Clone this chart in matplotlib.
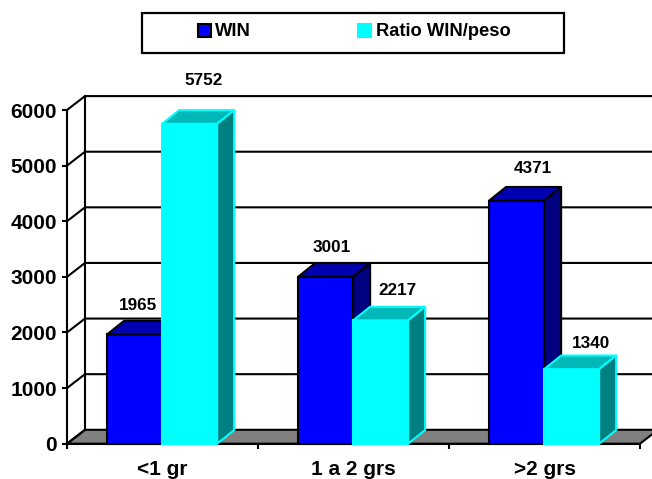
#!/usr/bin/env python3
"""Pseudo-3D clustered bars of WIN and WIN/weight ratio by weight class."""

import matplotlib
matplotlib.use('Agg')
import matplotlib.pyplot as plt
from matplotlib.patches import Polygon, Rectangle

plt.rcParams['font.family'] = ['Liberation Sans', 'DejaVu Sans']
plt.rcParams['font.weight'] = 'bold'

categories = ['<1 gr', '1 a 2 grs', '>2 grs']
win = [1965, 3001, 4371]
ratio = [5752, 2217, 1340]
y_ticks = [0, 1000, 2000, 3000, 4000, 5000, 6000]

W, H = 652, 479
LEFT, RIGHT, TOP, BOTTOM = 67, 640, 110, 443.7
LW = 1.5

# depth of the fake 3D box, in data units
DX = 18 / 191
DY = 250
BAR_DX = 17 / 191
BAR_DY = 245
BAR_W = 0.288


def draw_bar(ax, x0, value, face, top, side, edge):
    ax.bar(x0, value, BAR_W, align='edge', color=face, edgecolor=edge, linewidth=LW,
           clip_on=False, zorder=3)
    x1 = x0 + BAR_W
    ax.add_patch(Polygon([(x0, value), (x0 + BAR_DX, value + BAR_DY),
                          (x1 + BAR_DX, value + BAR_DY), (x1, value)],
                         facecolor=top, edgecolor=edge, linewidth=LW, clip_on=False, zorder=3,
                         joinstyle='round'))
    ax.add_patch(Polygon([(x1, 0), (x1 + BAR_DX, BAR_DY),
                          (x1 + BAR_DX, value + BAR_DY), (x1, value)],
                         facecolor=side, edgecolor=edge, linewidth=LW, clip_on=False, zorder=3,
                         joinstyle='round'))


def main():
    fig = plt.figure(figsize=(W / 100, H / 100), dpi=100)
    ax = fig.add_axes([LEFT / W, 1 - BOTTOM / H, (RIGHT - LEFT) / W, (BOTTOM - TOP) / H])
    ax.set_xlim(0, 3)
    ax.set_ylim(0, 6000)
    ax.patch.set_visible(False)
    for name in ['top', 'right']:
        ax.spines[name].set_visible(False)
    for name in ['left', 'bottom']:
        ax.spines[name].set_linewidth(LW)
        ax.spines[name].set_zorder(2)

    # floor
    ax.add_patch(Polygon([(0, 0), (DX, DY), (3 + DX, DY), (3, 0)], facecolor='#808080',
                         edgecolor='black', linewidth=LW, clip_on=False, zorder=1))

    # back and side walls
    ax.plot([DX, DX], [DY, 6000 + DY], color='black', lw=LW, clip_on=False, zorder=1)
    for tick in y_ticks[1:]:
        ax.plot([0, DX, 3 + DX], [tick, tick + DY, tick + DY], color='black', lw=LW,
                clip_on=False, zorder=1)
    ax.plot([0, DX], [0, DY], color='black', lw=LW, clip_on=False, zorder=1)

    # bars, left to right so the cyan one covers the blue side face
    for i in range(len(categories)):
        x0 = i + 0.21
        draw_bar(ax, x0, win[i], '#0000FF', '#0000B0', '#000080', 'black')
        draw_bar(ax, x0 + BAR_W, ratio[i], '#00FFFF', '#00B8B8', '#008080', '#00FFFF')

    # value labels sit at slightly different spots around each bar
    win_offsets = [(3, 29), (6, 29), (16, 32)]
    ratio_offsets = [(14, 43), (17, 30), (19, 26)]
    for i in range(len(categories)):
        ax.annotate(str(win[i]), (i + 0.21 + BAR_W / 2, win[i]), xytext=win_offsets[i],
                    textcoords='offset pixels', ha='center', va='center', fontsize=12.3, zorder=5)
        ax.annotate(str(ratio[i]), (i + 0.21 + BAR_W * 1.5, ratio[i]), xytext=ratio_offsets[i],
                    textcoords='offset pixels', ha='center', va='center', fontsize=12.3, zorder=5)

    ax.set_yticks(y_ticks)
    ax.tick_params(axis='y', length=3.6, width=LW, labelsize=15, pad=3.6)
    ax.set_xticks([0, 1, 2, 3])
    ax.set_xticklabels([])
    ax.tick_params(axis='x', length=3.6, width=LW)
    for i, name in enumerate(categories):
        ax.annotate(name, (i + 0.5, 0), xytext=(0, -26), textcoords='offset pixels',
                    ha='center', va='center', fontsize=15)

    # legend frame and entries
    fig.add_artist(Rectangle((142 / W, 1 - 53 / H), (564 - 142) / W, 40 / H, fill=False,
                             edgecolor='black', linewidth=1.6, transform=fig.transFigure))
    fig.add_artist(Rectangle((198 / W, 1 - 37 / H), 13 / W, 13 / H, facecolor='#0000FF',
                             edgecolor='black', linewidth=LW, transform=fig.transFigure))
    fig.add_artist(Rectangle((358 / W, 1 - 37 / H), 13 / W, 13 / H, facecolor='#00FFFF',
                             edgecolor='#00FFFF', linewidth=LW, transform=fig.transFigure))
    fig.text(215 / W, 1 - 31 / H, 'WIN', fontsize=13.2, va='center')
    fig.text(376 / W, 1 - 31 / H, 'Ratio WIN/peso', fontsize=13.2, va='center')

    fig.savefig('out.png', dpi=100)
    plt.close(fig)


if __name__ == '__main__':
    main()
